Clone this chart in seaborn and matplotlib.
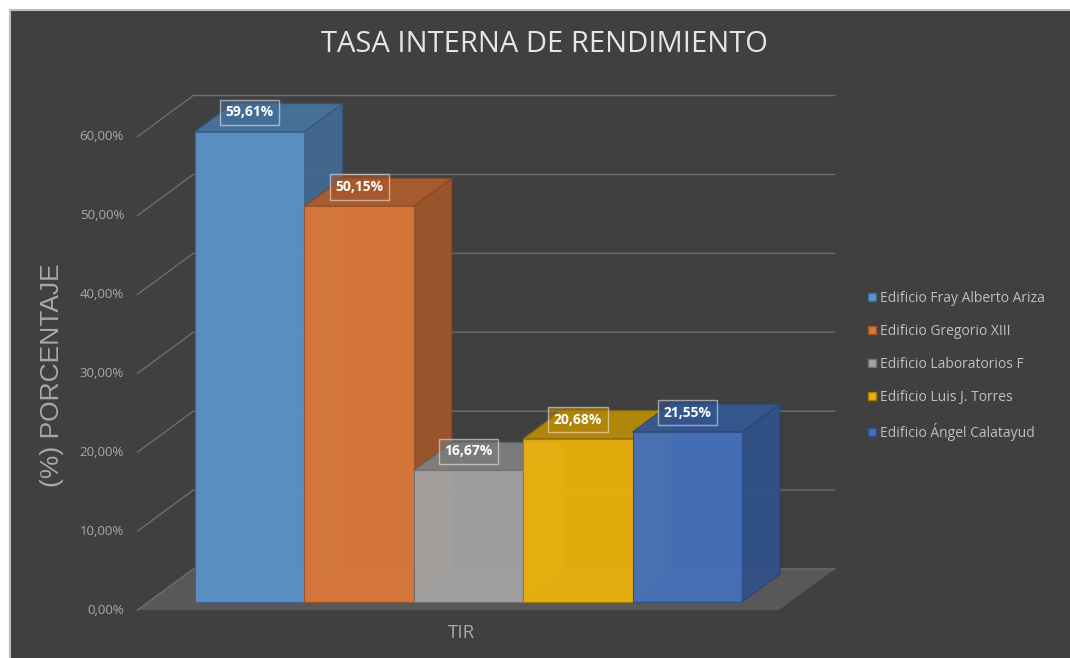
import matplotlib
matplotlib.use("Agg")
import pandas as pd
import matplotlib.pyplot as plt
import matplotlib.colors as mcolors
from matplotlib.patches import Polygon, Rectangle
import seaborn as sns

# datos
edificios = [
    "Edificio Fray Alberto Ariza",
    "Edificio Gregorio XIII",
    "Edificio Laboratorios F",
    "Edificio Luis J. Torres",
    "Edificio Ángel Calatayud",
]
tir = [59.61, 50.15, 16.67, 20.68, 21.55]
colores = ["#5b93cb", "#dc773a", "#a3a3a3", "#ebb20c", "#4470bb"]
ticks = [0, 10, 20, 30, 40, 50, 60]

BG = "#404040"
GRID = "#6e6e6e"
TXT = "#a8a8a8"

# efecto 3D: desplazamiento de profundidad (unidades de datos por "caja")
DX, DY = 0.0556, 3.55
D_FRONT, D_BACK = -0.29, 1.18
X_MIN, X_MAX = -0.468, 0.470


def tono(c, f):
    r, g, b = mcolors.to_rgb(c)
    return (r * f, g * f, b * f)


def fmt_pct(v):
    return f"{v:.2f}".replace(".", ",") + "%"


sns.set_theme(style="dark")
plt.rcParams["font.family"] = ["Open Sans", "DejaVu Sans"]

fig = plt.figure(figsize=(10.7, 6.58), dpi=100, facecolor="white")
fig.patches.append(Rectangle((10 / 1070, -0.01), 1.0, 1 - 10 / 658 + 0.01,
                             transform=fig.transFigure, facecolor=BG,
                             edgecolor="#bdbdbd", lw=1.5, zorder=-10))
ax = fig.add_axes([0, 0, 1, 1])
ax.set_facecolor("none")

df = pd.DataFrame({"grupo": ["TIR"] * len(tir), "edificio": edificios, "tir": tir})
sns.barplot(data=df, x="grupo", y="tir", hue="edificio", hue_order=edificios,
            palette=colores, saturation=1, legend=False, ax=ax)

# escala: pixel -> datos
ax.set_xlim((0 - 468.5) / 684, (1070 - 468.5) / 684)
ax.set_ylim((602 - 658) / 7.89, 602 / 7.89)
ax.set_axis_off()

# suelo
suelo = Polygon([(X_MIN + DX * D_FRONT, DY * D_FRONT), (X_MAX + DX * D_FRONT, DY * D_FRONT),
                 (X_MAX + DX * D_BACK, DY * D_BACK), (X_MIN + DX * D_BACK, DY * D_BACK)],
                closed=True, facecolor="#585858", edgecolor="none", zorder=0.5)
ax.add_patch(suelo)

# lineas de cuadricula y etiquetas del eje
for t in ticks:
    ax.plot([X_MIN + DX * D_FRONT, X_MIN + DX * D_BACK, X_MAX + DX * D_BACK],
            [t + DY * D_FRONT, t + DY * D_BACK, t + DY * D_BACK],
            color=GRID, lw=1, zorder=0.8)
    ax.text((124 - 468.5) / 684, t + DY * D_FRONT, fmt_pct(t), ha="right", va="center",
            fontsize=9.5, color=TXT)

# barras con caras laterales y superiores
barras = sorted(ax.patches[:len(tir)], key=lambda p: p.get_x())
for i, (p, c) in enumerate(zip(barras, colores)):
    x0, w, h = p.get_x(), p.get_width(), p.get_height()
    p.set_facecolor(c)
    p.set_edgecolor(tono(c, 0.7))
    p.set_linewidth(0.8)
    p.set_alpha(0.95)
    p.set_zorder(3 + 3 * i)
    lado = Polygon([(x0 + w, 0), (x0 + w + DX, DY), (x0 + w + DX, h + DY), (x0 + w, h)],
                   closed=True, facecolor=tono(c, 0.72), edgecolor=tono(c, 0.6),
                   lw=0.8, alpha=0.95, zorder=2 + 3 * i)
    tapa = Polygon([(x0, h), (x0 + w, h), (x0 + w + DX, h + DY), (x0 + DX, h + DY)],
                   closed=True, facecolor=tono(c, 0.78), edgecolor=tono(c, 0.6),
                   lw=0.8, alpha=0.95, zorder=2 + 3 * i)
    ax.add_patch(lado)
    ax.add_patch(tapa)
    ax.text(x0 + w / 2, h + 2.45, fmt_pct(tir[i]), ha="center", va="center",
            fontsize=10, fontweight="bold", color="white", zorder=50,
            bbox=dict(boxstyle="square,pad=0.4", facecolor=(*tono(c, 0.75), 0.6),
                      edgecolor=(1, 1, 1, 0.5), lw=1))

# leyenda
handles = [Rectangle((0, 0), 1, 1, facecolor=c, edgecolor=tono(c, 0.7)) for c in colores]
ax.legend(handles, edificios, loc="upper left", bbox_to_anchor=(868 / 1070, 1 - 291 / 658),
          frameon=False, fontsize=10, labelcolor="#bfbfbf", handlelength=0.55,
          handleheight=0.55, handletextpad=0.35, labelspacing=1.3, borderpad=0,
          borderaxespad=0)

fig.text(544 / 1070, 1 - 45 / 658, "TASA INTERNA DE RENDIMIENTO", ha="center", va="center",
         fontsize=21, color="#e6e6e6")
fig.text(52 / 1070, 1 - 375 / 658, "(%) PORCENTAJE", rotation=90, ha="center", va="center",
         fontsize=19, color=TXT, family=["Liberation Sans", "DejaVu Sans"])
fig.text(461 / 1070, 1 - 633 / 658, "TIR", ha="center", va="center", fontsize=13.5, color=TXT)

fig.savefig("out.png", dpi=100, facecolor=fig.get_facecolor())
